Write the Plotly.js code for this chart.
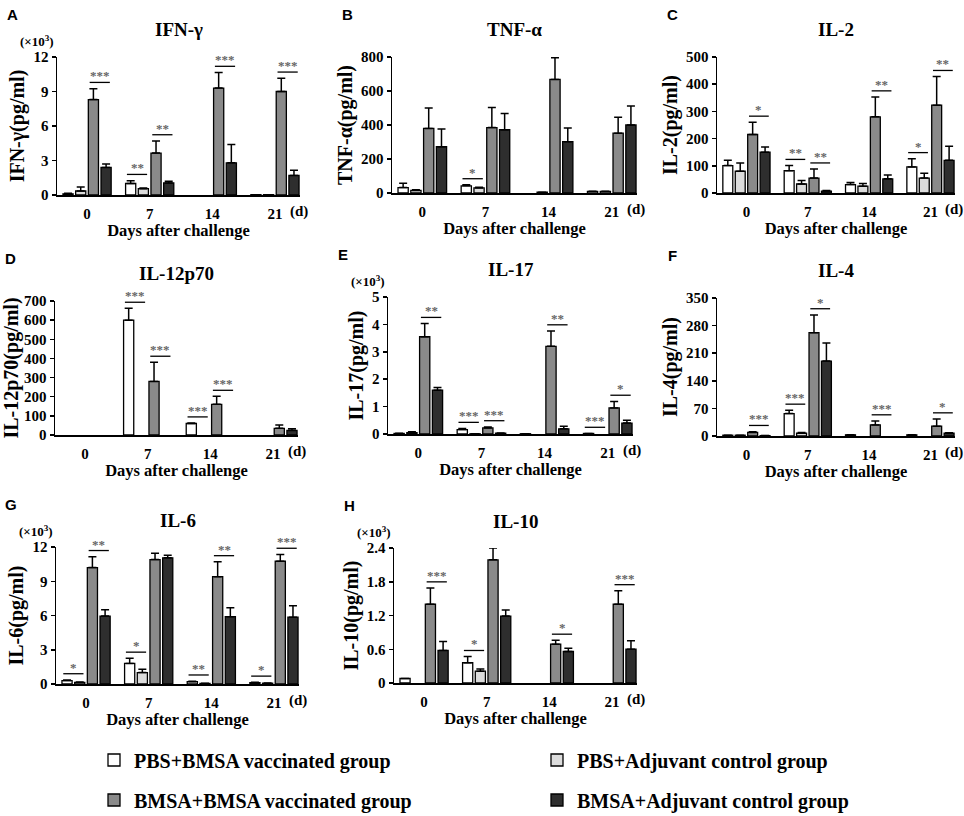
<!DOCTYPE html>
<html>
<head>
<meta charset="utf-8">
<script src="https://cdn.plot.ly/plotly-3.0.1.min.js"></script>
<style>
  body { margin: 0; background: #fff; }
  #chart { width: 964px; height: 816px; }
</style>
</head>
<body>
<div id="chart"></div>
<script>
// days after challenge, groups
const days = ['0', '7', '14', '21'];
const groups = ['PBS+BMSA vaccinated group', 'PBS+Adjuvant control group',
                'BMSA+BMSA vaccinated group', 'BMSA+Adjuvant control group'];
const groupColors = ['#ffffff', '#dcdcdc', '#8a8a8a', '#2e2e2e'];

// rows = groups (in order above), columns = days; err = upper SD
// significance: per day [white vs light, gray vs dark]
const ifnMean = [[0.1, 1.0, 0, 0.03], [0.35, 0.55, 0, 0.03], [8.3, 3.65, 9.3, 9.0], [2.4, 1.05, 2.8, 1.7]];
const ifnErr  = [[0.05, 0.25, 0, 0], [0.35, 0.05, 0, 0], [0.95, 1.05, 1.35, 1.15], [0.3, 0.15, 1.6, 0.45]];
const ifnSig  = [['', '***'], ['**', '**'], ['', '***'], ['', '***']];

const tnfMean = [[32, 42, 0, 10], [15, 30, 5, 10], [380, 385, 668, 352], [272, 372, 302, 400]];
const tnfErr  = [[25, 6, 0, 0], [4, 4, 0, 0], [120, 118, 128, 94], [105, 95, 80, 112]];
const tnfSig  = [['', ''], ['*', ''], ['', '**'], ['', '']];

const il2Mean = [[101, 82, 31, 96], [80, 33, 25, 55], [215, 55, 280, 323], [150, 7, 52, 120]];
const il2Err  = [[19, 19, 8, 30], [30, 13, 10, 18], [45, 33, 73, 105], [19, 2, 14, 52]];
const il2Sig  = [['', '*'], ['**', '**'], ['', '**'], ['*', '**']];

const il12Mean = [[0, 600, 60, 0], [0, 0, 0, 0], [0, 280, 160, 35], [0, 0, 0, 24]];
const il12Err  = [[0, 62, 3, 0], [0, 0, 0, 0], [0, 100, 42, 17], [0, 0, 0, 8]];
const il12Sig  = [['', ''], ['***', '***'], ['***', '***'], ['', '']];

const il17Mean = [[0.02, 0.16, 0.01, 0.02], [0.05, 0.01, 0, 0], [3.55, 0.22, 3.2, 0.95], [1.6, 0.03, 0.19, 0.4]];
const il17Err  = [[0.01, 0.04, 0, 0], [0.03, 0, 0, 0], [0.48, 0.04, 0.56, 0.24], [0.1, 0.01, 0.09, 0.1]];
const il17Sig  = [['', '**'], ['***', '***'], ['', '**'], ['***', '*']];

const il4Mean = [[2, 57, 3, 3], [2, 7, 0, 0], [9, 262, 28, 25], [1, 190, 0, 7]];
const il4Err  = [[0, 8, 0, 0], [0, 2, 0, 0], [2, 45, 10, 18], [0, 46, 0, 1]];
const il4Sig  = [['', '***'], ['***', '*'], ['', '***'], ['', '*']];

const il6Mean = [[0.3, 1.8, 0.2, 0.12], [0.15, 1.0, 0.05, 0.07], [10.2, 10.9, 9.4, 10.75], [5.95, 11.05, 5.9, 5.85]];
const il6Err  = [[0.06, 0.45, 0.05, 0.03], [0.03, 0.3, 0.02, 0.02], [0.95, 0.55, 1.3, 0.6], [0.55, 0.22, 0.78, 1.0]];
const il6Sig  = [['*', '**'], ['*', ''], ['**', '**'], ['*', '***']];

const il10Mean = [[0.08, 0.36, 0, 0], [0, 0.21, 0, 0], [1.4, 2.19, 0.69, 1.4], [0.58, 1.19, 0.56, 0.6]];
const il10Err  = [[0, 0.11, 0, 0], [0, 0.04, 0, 0], [0.29, 0.21, 0.07, 0.24], [0.16, 0.11, 0.06, 0.15]];
const il10Sig  = [['', '***'], ['*', '***'], ['', '*'], ['', '***']];

// panel boxes in px: [left, right, top, bottom] of the axes
const panels = [
  {letter: 'A', title: 'IFN-γ', yTitle: 'IFN-γ(pg/ml)', x1000: true, range: [0, 12], dtick: 3, mean: ifnMean, err: ifnErr, sig: ifnSig, box: [57, 300, 57, 195]},
  {letter: 'B', title: 'TNF-α', yTitle: 'TNF-α(pg/ml)', x1000: false, range: [0, 800], dtick: 200, mean: tnfMean, err: tnfErr, sig: tnfSig, box: [392, 637, 57, 193]},
  {letter: 'C', title: 'IL-2', yTitle: 'IL-2(pg/ml)', x1000: false, range: [0, 500], dtick: 100, mean: il2Mean, err: il2Err, sig: il2Sig, box: [717, 955, 57, 193]},
  {letter: 'D', title: 'IL-12p70', yTitle: 'IL-12p70(pg/ml)', x1000: false, range: [0, 700], dtick: 100, mean: il12Mean, err: il12Err, sig: il12Sig, box: [55, 298, 301, 435]},
  {letter: 'E', title: 'IL-17', yTitle: 'IL-17(pg/ml)', x1000: true, range: [0, 5], dtick: 1, mean: il17Mean, err: il17Err, sig: il17Sig, box: [388, 633, 297, 434]},
  {letter: 'F', title: 'IL-4', yTitle: 'IL-4(pg/ml)', x1000: false, range: [0, 350], dtick: 70, mean: il4Mean, err: il4Err, sig: il4Sig, box: [717, 955, 298, 436]},
  {letter: 'G', title: 'IL-6', yTitle: 'IL-6(pg/ml)', x1000: true, range: [0, 12], dtick: 3, mean: il6Mean, err: il6Err, sig: il6Sig, box: [56, 299, 547, 684]},
  {letter: 'H', title: 'IL-10', yTitle: 'IL-10(pg/ml)', x1000: true, range: [0, 2.4], dtick: 0.6, mean: il10Mean, err: il10Err, sig: il10Sig, box: [394, 637, 548, 683]}
];

const W = 964, H = 816;
const serif = 'Liberation Serif, Times New Roman, serif';
const bold = (size, color) => ({family: serif, size: size, color: color || '#000', weight: 'bold'});
const bargap = 0.19, bargroupgap = 0.2;
const slot = (1 - bargap) / groups.length;
const barCenter = (d, k) => d + (k - (groups.length - 1) / 2) * slot;

const traces = [];
const legendBase = {orientation: 'h', x: 94 / W, xanchor: 'left', yanchor: 'middle', entrywidth: 398,
                    font: bold(20), bgcolor: 'rgba(0,0,0,0)', itemclick: false, itemdoubleclick: false};
const layout = {
  width: W, height: H,
  margin: {l: 0, r: 0, t: 0, b: 0, autoexpand: false},
  paper_bgcolor: '#fff', plot_bgcolor: '#fff',
  barmode: 'group', bargap: bargap, bargroupgap: bargroupgap,
  showlegend: true,
  legend: Object.assign({}, legendBase, {y: 1 - 760 / H}),
  legend2: Object.assign({}, legendBase, {y: 1 - 800 / H}),
  shapes: [], annotations: []
};

panels.forEach((p, i) => {
  const n = i === 0 ? '' : String(i + 1);
  const [bx0, bx1, by0, by1] = p.box;
  const xs = days.map((d, j) => j);

  groups.forEach((g, k) => {
    traces.push({
      type: 'bar', x: xs, y: p.mean[k].map(v => v > 0 ? v : null), name: g,
      xaxis: 'x' + n, yaxis: 'y' + n,
      marker: {color: groupColors[k], line: {color: '#000', width: 1.3}},
      error_y: {type: 'data', symmetric: false,
                array: p.err[k].map(e => e > 0 ? e : NaN),
                arrayminus: p.err[k].map(() => 0),
                color: '#000', thickness: 1.5, width: 4},
      showlegend: i === 0, legend: k < 2 ? 'legend' : 'legend2',
      hoverinfo: 'skip'
    });
  });

  layout['xaxis' + n] = {
    domain: [bx0 / W, bx1 / W], anchor: 'y' + n,
    range: [-0.48, 3.4], tickvals: xs, ticktext: days,
    showline: true, linecolor: '#000', linewidth: 1.5, ticks: '', ticklabelstandoff: 4,
    showgrid: false, zeroline: false, fixedrange: true,
    tickfont: bold(15),
    title: {text: 'Days after challenge', font: bold(16.5), standoff: 1}
  };
  layout['yaxis' + n] = {
    domain: [1 - by1 / H, 1 - by0 / H], anchor: 'x' + n,
    range: p.range, tick0: 0, dtick: p.dtick,
    showline: true, linecolor: '#000', linewidth: 1.5,
    ticks: 'outside', ticklen: 4, tickwidth: 1.5, tickcolor: '#000',
    showgrid: false, zeroline: false, fixedrange: true,
    tickfont: bold(15),
    title: {text: p.yTitle, font: bold(20), standoff: 3}
  };

  // panel title, letter, scale note, (d)
  layout.annotations.push(
    {xref: 'paper', yref: 'paper', x: (bx0 + bx1) / 2 / W, y: 1 - (by0 - 27) / H,
     text: p.title, showarrow: false, font: bold(19), xanchor: 'center', yanchor: 'middle'},
    {xref: 'paper', yref: 'paper', x: (bx0 - 45) / W, y: 1 - (by0 - 43) / H,
     text: p.letter, showarrow: false, xanchor: 'center', yanchor: 'middle',
     font: {family: 'Liberation Sans, Arial, sans-serif', size: 15, color: '#000', weight: 'bold'}},
    {xref: 'x' + n, yref: 'y' + n + ' domain', x: xs[xs.length - 1], y: 0, xshift: 13, yshift: -6,
     text: '(d)', showarrow: false, xanchor: 'left', yanchor: 'top', font: bold(15)}
  );
  if (p.x1000) {
    layout.annotations.push({xref: 'paper', yref: 'paper', x: (bx0 - 1) / W, y: 1 - (by0 - 16) / H,
      text: '(×10<sup>3</sup>)', showarrow: false, xanchor: 'right', yanchor: 'middle', font: bold(13)});
  }

  // significance brackets over [white, light] and [gray, dark]
  const span = p.range[1] - p.range[0];
  p.sig.forEach((pair, d) => {
    pair.forEach((label, s) => {
      if (!label) return;
      const a = s * 2, b = a + 1;
      const top = Math.max(p.mean[a][d] + p.err[a][d], p.mean[b][d] + p.err[b][d]);
      const yLine = top + span * 0.045;
      const xa0 = barCenter(d, a) - 0.06, xa1 = barCenter(d, b) + 0.06;
      layout.shapes.push({type: 'line', xref: 'x' + n, yref: 'y' + n,
        x0: xa0, x1: xa1, y0: yLine, y1: yLine, line: {color: '#000', width: 1.3}});
      layout.annotations.push({xref: 'x' + n, yref: 'y' + n, x: (xa0 + xa1) / 2, y: yLine,
        text: label, showarrow: false, xanchor: 'center', yanchor: 'bottom', yshift: -3,
        font: bold(13, '#666')});
    });
  });
});

Plotly.newPlot('chart', traces, layout, {displayModeBar: false, staticPlot: true});
</script>
</body>
</html>
